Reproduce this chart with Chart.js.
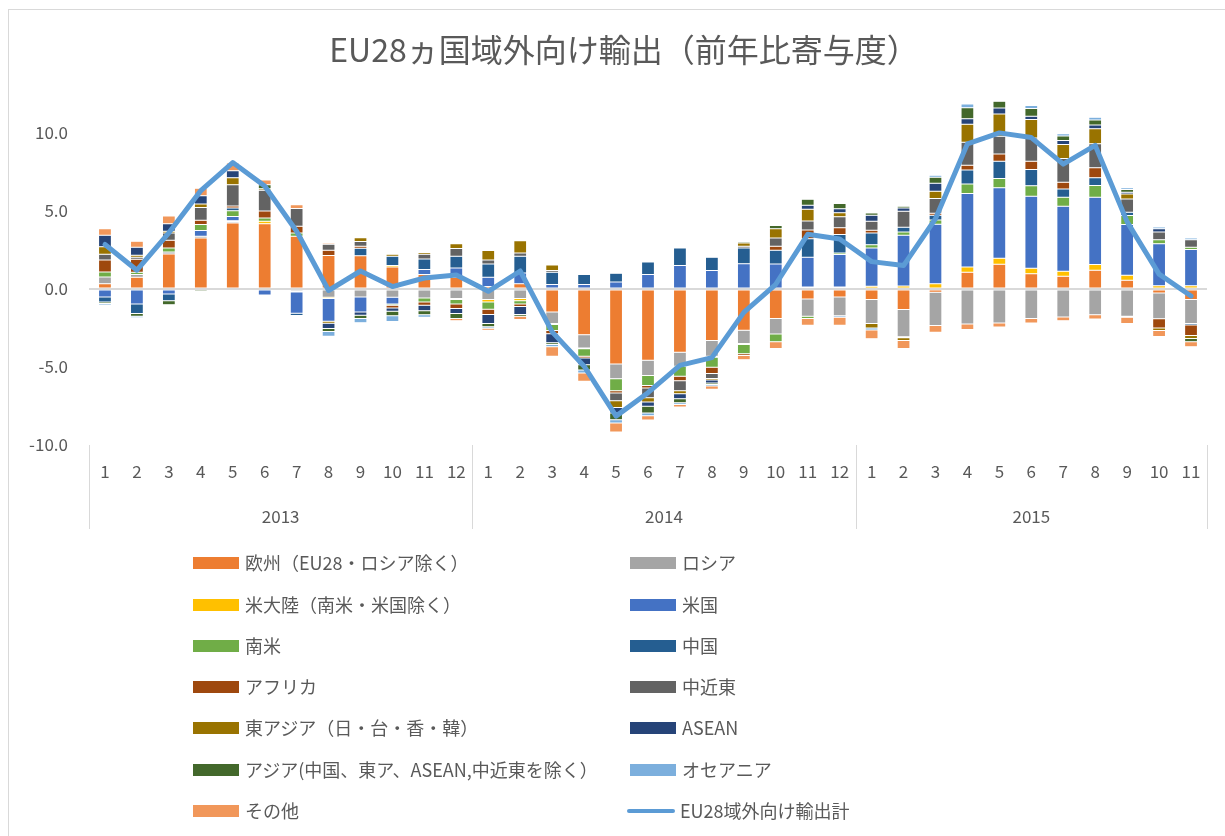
<!DOCTYPE html>
<html>
<head>
<meta charset="utf-8">
<script src="https://cdn.jsdelivr.net/npm/chart.js@4/dist/chart.umd.min.js"></script>
<style>
  html, body { margin: 0; padding: 0; background: #fff; overflow: hidden; }
  #frame { position: absolute; left: 8px; top: 9px; width: 1300px; height: 900px; border: 1px solid #D9D9D9; box-sizing: border-box; }
  #wrap { position: absolute; left: 0; top: 0; width: 1225px; height: 836px; }
  #title { position: absolute; left: 324px; width: 600px; top: 28px; text-align: center; font-family: "Noto Sans CJK JP", sans-serif; font-size: 32px; line-height: 40px; color: #595959; white-space: nowrap; }
  .lg { position: absolute; font-family: "Noto Sans CJK JP", sans-serif; font-size: 18px; color: #595959; white-space: nowrap; line-height: 22px; }
  .sw { position: absolute; width: 46px; height: 12px; }
  .ln { position: absolute; width: 48px; height: 4px; border-radius: 2px; }
</style>
</head>
<body>
<div id="frame"></div>
<div id="wrap"><canvas id="c" width="1225" height="836"></canvas></div>
<div id="title"></div>
<div id="legend"></div>
<script>
// ---- data ----
const chartTitle = 'EU28ヵ国域外向け輸出（前年比寄与度）';
const monthLabels = ['1','2','3','4','5','6','7','8','9','10','11','12',
                     '1','2','3','4','5','6','7','8','9','10','11','12',
                     '1','2','3','4','5','6','7','8','9','10','11'];
const years = ['2013', '2014', '2015'];
const yearMonthCounts = [12, 12, 11];

const europe    = [0.34,0.75,2.24,3.27,4.23,4.17,3.38,2.14,2.12,1.41,0.92,0.75, 0.15,0.34,-1.47,-2.93,-4.81,-4.57,-4.06,-3.31,-2.65,-1.90,-0.64,-0.51, -0.68,-1.32,-0.21,1.07,1.58,0.98,0.81,1.20,0.56,-0.26,-0.68];
const russia    = [0.43,0.17,0.13,0.10,0.08,0,-0.15,-0.53,-0.51,-0.53,-0.58,-0.62, -0.68,-0.62,-0.75,-0.85,-0.94,-0.98,-0.90,-1.00,-0.85,-0.98,-1.11,-1.20, -1.54,-1.75,-2.14,-2.24,-2.18,-1.90,-1.79,-1.65,-1.75,-1.65,-1.54];
const americas  = [0,0,0,0,0.06,0.17,-0.05,-0.09,0,0.09,0,-0.06, -0.15,-0.13,-0.06,-0.06,0,0,0,-0.06,-0.06,0,0.13,0.13, 0.17,0.19,0.34,0.34,0.38,0.34,0.32,0.36,0.32,0.21,0.21];
const usa       = [-0.51,-0.96,-0.32,0.38,0.28,-0.38,-1.35,-1.45,-0.96,-0.43,0.32,0.60, 0.60,0.68,0.28,0.28,0.45,0.92,1.50,1.18,1.62,1.60,1.90,2.07, 2.46,3.25,3.80,4.70,4.53,4.62,4.17,4.32,3.25,2.69,2.31];
const southAm   = [0.32,0.15,0.26,0.38,0.36,0.21,0.21,0,0,-0.09,-0.26,-0.28, -0.47,-0.21,-0.38,-0.47,-0.77,-0.64,-0.64,-0.64,-0.60,-0.51,-0.15,0.11, 0.21,0.21,0.28,0.62,0.58,0.68,0.58,0.75,0.58,0.26,0.15];
const china     = [-0.32,-0.62,-0.43,0,0.17,0,-0.15,0,0.49,0.60,0.68,0.75, 0.85,1.07,0.79,0.64,0.56,0.81,1.13,0.85,1.00,0.88,1.18,1.18, 0.75,0.30,0.30,0.90,1.11,1.03,0.53,0.49,0.21,0,-0.09];
const africa    = [0.77,0.83,0.49,0.28,0.13,0.45,0.43,0.34,0.13,-0.17,-0.21,-0.30, -0.34,-0.17,-0.21,-0.11,-0.15,-0.15,-0.28,-0.41,-0.11,0.26,0.56,0.43, 0.17,-0.06,0.13,0.30,0.47,0.53,0.43,0.64,-0.06,-0.60,-0.68];
const midEast   = [0.36,0.13,0.47,0.81,1.37,1.32,1.13,0.38,0.30,0,0.30,0.49, 0.26,0.21,0.11,0,-0.49,-0.64,-0.64,-0.32,0.11,0.53,0.58,0.70, 0.58,1.03,0.94,1.47,1.13,1.50,1.52,1.54,0.85,0.49,0.49];
const eastAsia  = [0.49,0.13,0.11,0.23,0.45,0.10,0,-0.13,0.24,0.13,0.11,0.30, 0.60,0.79,0.36,0,-0.43,-0.26,-0.19,-0.09,0.21,0.58,0.75,0.26, -0.28,-0.17,0.47,1.15,1.43,1.18,0.90,0.96,0.32,-0.15,-0.19];
const asean     = [0.73,0.51,0.47,0.53,0.45,0,0,-0.34,-0.21,-0.21,-0.34,-0.32, -0.58,-0.51,-0.58,-0.43,-0.36,-0.28,-0.32,-0.19,0,0,0.26,0.26, 0.38,0.21,0.51,0.36,0.38,0.21,0.26,0.24,0.11,0.21,0];
const otherAsia = [-0.10,-0.17,-0.26,-0.15,0,0.26,0,-0.19,-0.21,-0.28,-0.26,-0.32, -0.21,-0.11,-0.11,-0.34,-0.43,-0.43,-0.26,-0.11,0.09,0.21,0.38,0.34, 0.15,0.11,0.38,0.70,0.43,0.49,0.28,0.32,0.17,0,-0.21];
const oceania   = [-0.10,-0.10,-0.04,0,0,0,-0.06,-0.30,-0.28,-0.38,-0.17,0, -0.09,0,-0.15,-0.19,-0.21,-0.17,-0.11,-0.09,0,0,0,-0.11, -0.13,0,0.13,0.24,0,0.19,0.15,0.19,0.11,0.11,0.11];
const others    = [0.41,0.38,0.51,0.47,0.49,0.30,0.24,0.09,0,0,0.06,-0.13, -0.13,-0.21,-0.60,-0.53,-0.58,-0.28,-0.17,-0.21,-0.26,-0.43,-0.43,-0.51, -0.56,-0.51,-0.43,-0.36,-0.26,-0.28,-0.24,-0.28,-0.41,-0.38,-0.32];
const total     = [2.85,1.2,3.6,6.3,8.1,6.6,3.7,-0.1,1.15,0.15,0.7,0.9, -0.15,1.15,-2.75,-4.95,-8.15,-6.65,-4.9,-4.4,-1.5,0.3,3.5,3.2, 1.75,1.5,4.5,9.3,10.0,9.7,8.0,9.2,4.3,0.95,-0.45];

const seriesNames = ['欧州（EU28・ロシア除く）','ロシア','米大陸（南米・米国除く）','米国','南米','中国','アフリカ','中近東',
                     '東アジア（日・台・香・韓）','ASEAN','アジア(中国、東ア、ASEAN,中近東を除く）','オセアニア','その他'];
const lineName = 'EU28域外向け輸出計';
const yTicks = [-10, -5, 0, 5, 10];

// ---- styles ----
const seriesData = [europe, russia, americas, usa, southAm, china, africa, midEast, eastAsia, asean, otherAsia, oceania, others];
const seriesColors = ['#ED7D31','#A5A5A5','#FFC000','#4472C4','#70AD47','#255E91','#9E480E','#636363','#997300','#264478','#43682B','#7CAFDD','#F1975A'];
const lineColor = '#5B9BD5';
const FONT = '"Noto Sans CJK JP", sans-serif';
const TEXT = '#595959';

Chart.defaults.font.family = FONT;
Chart.defaults.color = TEXT;

document.getElementById('title').textContent = chartTitle;

const datasets = seriesData.map((d, i) => ({
  type: 'bar', label: seriesNames[i], data: d, backgroundColor: seriesColors[i],
  borderColor: 'rgba(255,255,255,0.25)', borderWidth: 0.5, borderSkipped: false,
  stack: 'bars', order: 1, barPercentage: 0.4, categoryPercentage: 1.0
}));
datasets.push({
  type: 'line', label: lineName, data: total, borderColor: lineColor, backgroundColor: lineColor,
  borderWidth: 5, pointRadius: 0, tension: 0, stack: 'line', order: 0,
  borderJoinStyle: 'round', borderCapStyle: 'round'
});

const yearGroups = {
  id: 'yearGroups',
  afterDraw(chart) {
    const xs = chart.scales.x, area = chart.chartArea, ctx = chart.ctx;
    const n = monthLabels.length;
    const edge = i => i <= 0 ? area.left : (i >= n ? area.right : (xs.getPixelForValue(i - 1) + xs.getPixelForValue(i)) / 2);
    ctx.save();
    ctx.strokeStyle = '#D9D9D9';
    ctx.lineWidth = 1;
    ctx.fillStyle = TEXT;
    ctx.font = '17px ' + FONT;
    ctx.textAlign = 'center';
    ctx.textBaseline = 'middle';
    let start = 0;
    const bounds = [0];
    years.forEach((y, k) => {
      const end = start + yearMonthCounts[k];
      const x0 = edge(start), x1 = edge(end);
      ctx.fillText(y, (x0 + x1) / 2, area.bottom + 72);
      bounds.push(end);
      start = end;
    });
    bounds.forEach(b => {
      const x = Math.round(edge(b)) + 0.5;
      ctx.beginPath();
      ctx.moveTo(x, area.bottom);
      ctx.lineTo(x, area.bottom + 84);
      ctx.stroke();
    });
    ctx.restore();
  }
};

new Chart(document.getElementById('c'), {
  data: { labels: monthLabels, datasets },
  options: {
    responsive: false,
    animation: false,
    layout: { padding: { left: 0, right: 18, top: 97, bottom: 291 } },
    plugins: {
      legend: { display: false },
      tooltip: { enabled: false },
      title: { display: false }
    },
    scales: {
      x: {
        stacked: true,
        grid: { display: false, drawTicks: false },
        border: { display: false },
        ticks: { color: TEXT, font: { size: 17 }, padding: 16, maxRotation: 0, autoSkip: false },
        afterFit(s) { s.height = 100; }
      },
      y: {
        stacked: true,
        min: -10, max: 12.3,
        afterBuildTicks(s) { s.ticks = yTicks.map(v => ({ value: v })); },
        afterFit(s) { s.width = 89; },
        grid: {
          drawTicks: false,
          color: c => (c.tick && c.tick.value === 0) ? '#D9D9D9' : 'rgba(0,0,0,0)',
          lineWidth: c => (c.tick && c.tick.value === 0) ? 2 : 0
        },
        border: { display: false },
        ticks: { color: TEXT, font: { size: 17 }, padding: 21, callback: v => Number(v).toFixed(1) }
      }
    }
  },
  plugins: [yearGroups]
});

// ---- HTML legend (two columns) ----
const legend = document.getElementById('legend');
const rowY = [563, 605, 646, 687, 728, 770, 811];
const colX = [193, 630];
const items = seriesNames.map((n, i) => ({ name: n, color: seriesColors[i], line: false }));
items.push({ name: lineName, color: lineColor, line: true });
items.forEach((it, i) => {
  const col = i % 2, row = Math.floor(i / 2);
  const x = colX[col], y = rowY[row];
  const sw = document.createElement('div');
  if (it.line) {
    sw.className = 'ln';
    sw.style.left = (x - 3) + 'px';
    sw.style.top = (y - 2) + 'px';
  } else {
    sw.className = 'sw';
    sw.style.left = x + 'px';
    sw.style.top = (y - 6) + 'px';
  }
  sw.style.background = it.color;
  legend.appendChild(sw);
  const t = document.createElement('div');
  t.className = 'lg';
  t.textContent = it.name;
  t.style.left = (x + (it.line ? 50 : 52)) + 'px';
  t.style.top = (y - 12) + 'px';
  legend.appendChild(t);
});
</script>
</body>
</html>
